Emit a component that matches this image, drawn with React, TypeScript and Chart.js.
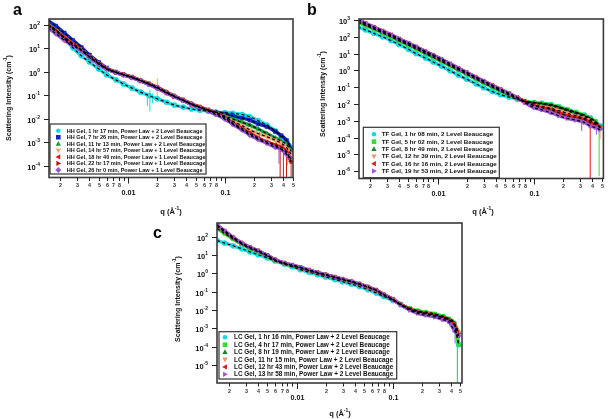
import React, { useEffect, useRef } from "react";
import { Chart, registerables } from "chart.js";

Chart.register(...registerables);

const FONT = '"Liberation Sans", Arial, Helvetica, sans-serif';

const Q = [0.0015, 0.0018, 0.0022, 0.0027, 0.0033, 0.004, 0.005, 0.006, 0.0075, 0.009, 0.011, 0.0135, 0.0165, 0.02, 0.025, 0.03, 0.037, 0.045, 0.055, 0.067, 0.08, 0.1, 0.12, 0.15, 0.18, 0.22, 0.27, 0.33, 0.38, 0.43, 0.48];

// ---------- Panel a : HH Gel ----------
const A_LABELS = [
  "HH Gel, 1 hr 17 min, Power Law + 2 Level Beaucage",
  "HH Gel, 7 hr 26 min, Power Law + 2 Level Beaucage",
  "HH Gel, 11 hr 13 min, Power Law + 2 Level Beaucage",
  "HH Gel, 14 hr 57 min, Power Law + 1 Level Beaucage",
  "HH Gel, 18 hr 40 min, Power Law + 1 Level Beaucage",
  "HH Gel, 22 hr 17 min, Power Law + 1 Level Beaucage",
  "HH Gel, 26 hr 0 min, Power Law + 1 Level Beaucage",
];
const A_1H17 = [110, 62, 26, 10.5, 4.8, 2.6, 1.3, 0.75, 0.45, 0.3, 0.2, 0.135, 0.095, 0.07, 0.05, 0.038, 0.031, 0.026, 0.023, 0.021, 0.019, 0.018, 0.017, 0.015, 0.012, 0.0082, 0.0053, 0.003, 0.0017, 0.0011, 0.0006];
const A_7H26 = [150, 90, 45, 22, 11, 5.2, 2.5, 1.45, 0.95, 0.74, 0.57, 0.41, 0.29, 0.2, 0.125, 0.086, 0.06, 0.041, 0.03, 0.023, 0.019, 0.016, 0.013, 0.0105, 0.0087, 0.006, 0.0045, 0.0028, 0.0019, 0.0012, 0.0005];
const A_11H13 = [100, 58, 29, 15.5, 8.7, 4.4, 2.2, 1.35, 0.96, 0.76, 0.59, 0.43, 0.31, 0.215, 0.135, 0.092, 0.063, 0.043, 0.031, 0.023, 0.018, 0.013, 0.0095, 0.007, 0.0053, 0.0036, 0.0023, 0.0015, 0.0011, 0.0008, 0.0004];
const A_14H57 = [95, 56, 28, 15, 8.5, 4.3, 2.2, 1.35, 0.95, 0.75, 0.58, 0.42, 0.3, 0.22, 0.13, 0.09, 0.062, 0.042, 0.031, 0.023, 0.017, 0.012, 0.0078, 0.005, 0.0033, 0.0023, 0.0017, 0.0012, 0.0009, 0.0006, 0.0003];
const A_18H40 = [95, 55, 28, 15, 8.5, 4.3, 2.2, 1.35, 0.95, 0.75, 0.58, 0.42, 0.3, 0.21, 0.13, 0.09, 0.062, 0.042, 0.031, 0.023, 0.017, 0.011, 0.0065, 0.0038, 0.0024, 0.0015, 0.001, 0.00075, 0.0006, 0.0004, 0.00015];
const A_22H17 = [90, 52, 27, 14.5, 8.3, 4.2, 2.2, 1.33, 0.94, 0.74, 0.57, 0.41, 0.3, 0.21, 0.13, 0.09, 0.061, 0.041, 0.03, 0.022, 0.016, 0.0105, 0.006, 0.0035, 0.0022, 0.0014, 0.001, 0.0007, 0.0005, 0.00035, 0.00015];
const A_26H0 = [72, 42, 22, 13, 8, 4.1, 2.1, 1.3, 0.92, 0.73, 0.56, 0.41, 0.29, 0.2, 0.125, 0.088, 0.06, 0.04, 0.029, 0.021, 0.015, 0.0095, 0.0058, 0.0033, 0.002, 0.0013, 0.0009, 0.0006, 0.0005, 0.0003, 0.0002];
// error bars: [series, q, low, high]
const A_ERRS: number[][] = [
  [3, 0.02, 0.085, 0.52], [0, 0.0168, 0.02, 0.17], [0, 0.0158, 0.035, 0.13], [0, 0.0178, 0.045, 0.12],
  [5, 0.37, 1e-9, 0.0008], [4, 0.4, 1e-9, 0.0005], [5, 0.43, 1e-9, 0.0004], [4, 0.48, 1e-9, 0.0003],
  [3, 0.44, 1e-4, 0.0009], [6, 0.36, 1.2e-4, 0.0008], [1, 0.47, 2e-4, 0.0009],
];

// ---------- Panel b : TF Gel ----------
const B_LABELS = [
  "TF Gel, 1 hr 08 min, 2 Level Beaucage",
  "TF Gel, 5 hr 02 min, 2 Level Beaucage",
  "TF Gel, 8 hr 49 min, 2 Level Beaucage",
  "TF Gel, 12 hr 39 min, 2 Level Beaucage",
  "TF Gel, 16 hr 16 min, 2 Level Beaucage",
  "TF Gel, 19 hr 53 min, 2 Level Beaucage",
];
const B_1H08 = [380, 260, 160, 100, 60, 35, 18, 10, 5.5, 3.2, 1.8, 0.95, 0.52, 0.3, 0.16, 0.093, 0.055, 0.036, 0.026, 0.019, 0.014, 0.012, 0.011, 0.0092, 0.0068, 0.0046, 0.0032, 0.0022, 0.0015, 0.0009, 0.0005];
const B_5H02 = [720, 480, 290, 170, 100, 58, 32, 19, 10, 6, 3.4, 1.9, 1.05, 0.6, 0.31, 0.18, 0.1, 0.058, 0.034, 0.021, 0.015, 0.012, 0.0108, 0.009, 0.0068, 0.0047, 0.0032, 0.0021, 0.0014, 0.0009, 0.0004];
const B_8H49 = [850, 540, 330, 195, 115, 66, 37, 22, 11.5, 7, 3.9, 2.1, 1.15, 0.66, 0.34, 0.2, 0.11, 0.065, 0.038, 0.022, 0.014, 0.011, 0.0095, 0.0078, 0.0058, 0.004, 0.0027, 0.0018, 0.0012, 0.0008, 0.0004];
const B_12H39 = [1050, 650, 385, 225, 135, 77, 42, 26, 13.5, 8.3, 4.6, 2.5, 1.35, 0.77, 0.39, 0.235, 0.13, 0.075, 0.043, 0.024, 0.014, 0.0085, 0.007, 0.0055, 0.004, 0.0028, 0.002, 0.0014, 0.001, 0.0007, 0.0004];
const B_16H16 = [1000, 620, 370, 218, 130, 74, 41, 25, 13, 8, 4.5, 2.4, 1.3, 0.74, 0.38, 0.23, 0.126, 0.073, 0.042, 0.024, 0.014, 0.0078, 0.006, 0.0046, 0.003, 0.002, 0.0016, 0.0012, 0.0008, 0.0006, 0.0004];
const B_19H53 = [1020, 640, 380, 222, 132, 76, 42, 25.5, 13.3, 8.2, 4.6, 2.45, 1.33, 0.75, 0.385, 0.23, 0.125, 0.072, 0.041, 0.023, 0.012, 0.006, 0.0045, 0.003, 0.002, 0.0014, 0.0011, 0.0008, 0.0005, 0.0004, 0.0003];
const B_ERRS: number[][] = [
  [4, 0.38, 1e-9, 0.0008], [1, 0.47, 5e-7, 0.0004], [3, 0.48, 8e-5, 0.0005],
  [5, 0.31, 2.5e-4, 0.0012], [5, 0.44, 1.5e-4, 0.0006],
];

// ---------- Panel c : LC Gel ----------
const C_LABELS = [
  "LC Gel, 1 hr 16 min, Power Law + 2 Level Beaucage",
  "LC Gel, 4 hr 17 min, Power Law + 2 Level Beaucage",
  "LC Gel, 8 hr 19 min, Power Law + 2 Level Beaucage",
  "LC Gel, 11 hr 15 min, Power Law + 2 Level Beaucage",
  "LC Gel, 12 hr 43 min, Power Law + 2 Level Beaucage",
  "LC Gel, 13 hr 58 min, Power Law + 2 Level Beaucage",
];
const C_1H16 = [62, 45, 32, 22, 15, 10.5, 7, 4.8, 3.2, 2.3, 1.6, 1.15, 0.85, 0.64, 0.46, 0.35, 0.26, 0.19, 0.13, 0.085, 0.055, 0.033, 0.02, 0.0115, 0.0082, 0.0066, 0.0054, 0.0041, 0.003, 0.0018, 0.00013];
const C_4H17 = [280, 150, 75, 40, 23, 15, 8.5, 5, 3.4, 2.6, 1.95, 1.4, 1.03, 0.8, 0.58, 0.45, 0.34, 0.25, 0.17, 0.115, 0.068, 0.038, 0.021, 0.012, 0.0092, 0.0077, 0.0062, 0.0046, 0.0033, 0.002, 0.00013];
const C_8H19 = [380, 185, 85, 43, 25, 16.5, 9.2, 5.4, 3.55, 2.75, 2.05, 1.48, 1.08, 0.84, 0.61, 0.47, 0.355, 0.26, 0.18, 0.12, 0.07, 0.038, 0.02, 0.011, 0.008, 0.0064, 0.0052, 0.004, 0.0029, 0.0018, 0.0006];
const C_11H15 = [430, 205, 92, 46, 26.5, 17.2, 9.6, 5.6, 3.65, 2.85, 2.12, 1.52, 1.12, 0.86, 0.63, 0.49, 0.365, 0.265, 0.185, 0.122, 0.071, 0.038, 0.02, 0.011, 0.0078, 0.0062, 0.005, 0.0038, 0.0028, 0.0017, 0.0006];
const C_12H43 = [420, 200, 90, 45, 26, 17, 9.5, 5.5, 3.6, 2.8, 2.1, 1.5, 1.1, 0.85, 0.62, 0.48, 0.36, 0.26, 0.18, 0.12, 0.07, 0.038, 0.02, 0.011, 0.0078, 0.0062, 0.005, 0.0038, 0.0028, 0.0017, 0.0004];
const C_13H58 = [440, 210, 93, 46, 26.5, 17, 9.5, 5.5, 3.6, 2.8, 2.1, 1.5, 1.1, 0.85, 0.62, 0.48, 0.36, 0.26, 0.18, 0.12, 0.07, 0.037, 0.019, 0.0098, 0.0066, 0.0052, 0.0042, 0.003, 0.0023, 0.0008, 0.0004];
const C_ERRS: number[][] = [
  [1, 0.465, 1e-9, 0.0006], [0, 0.465, 1e-9, 0.0003], [5, 0.44, 1.5e-4, 0.0012], [4, 0.47, 1.5e-4, 0.0008],
];

const CYAN = "#16d9e3";
const A_COLORS = [CYAN, "#1428c8", "#1a9c3a", "#eaa86e", "#e21a1a", "#d01010", "#9a55d6"];
const A_STYLES = ["circle", "rect", "triangle", "triangle", "triangle", "triangle", "rectRot"];
const A_ROTS = [0, 0, 0, 180, 270, 90, 0];
const BC_COLORS = [CYAN, "#2de02d", "#15892a", "#ee9670", "#e21a1a", "#9a55d6"];
const BC_STYLES = ["circle", "rect", "triangle", "triangle", "triangle", "triangle"];
const BC_ROTS = [0, 0, 0, 180, 270, 90];

interface Legend { x: number; y: number; w: number; h: number; row0: number; dy: number; mx: number; tx: number; tw: number }
interface Panel {
  left: number; top: number; w: number; h: number;
  pad: { left: number; top: number; right: number; bottom: number };
  xMin: number; xMax: number; yMin: number; yMax: number;
  letter: string; letterPos: number[]; yTitle: number[]; qTitle: number[];
  legend: Legend;
  labels: string[]; series: number[][]; colors: string[]; styles: string[]; rots: number[]; errs: number[][];
}

const PANELS: Panel[] = [
  {
    left: 0, top: 0, w: 300, h: 216,
    pad: { left: 49, top: 19, right: 7, bottom: 38.5 },
    xMin: 0.00153, xMax: 0.502, yMin: 3.1e-5, yMax: 177,
    letter: "a", letterPos: [13, 15], yTitle: [8, 98], qTitle: [171, 211],
    legend: { x: 50, y: 124, w: 156, h: 50, row0: 130.7, dy: 6.55, mx: 58.3, tx: 66.7, tw: 136 },
    labels: A_LABELS, series: [A_1H17, A_7H26, A_11H13, A_14H57, A_18H40, A_22H17, A_26H0],
    colors: A_COLORS, styles: A_STYLES, rots: A_ROTS, errs: A_ERRS,
  },
  {
    left: 300, top: 0, w: 308, h: 216,
    pad: { left: 59, top: 19, right: 2, bottom: 37.5 },
    xMin: 0.00154, xMax: 0.52, yMin: 3.7e-7, yMax: 1146,
    letter: "b", letterPos: [7, 15], yTitle: [22, 94], qTitle: [183, 211],
    legend: { x: 63.3, y: 127.3, w: 136, h: 50.4, row0: 134.3, dy: 7.35, mx: 74, tx: 81.7, tw: 111.7 },
    labels: B_LABELS, series: [B_1H08, B_5H02, B_8H49, B_12H39, B_16H16, B_19H53],
    colors: BC_COLORS, styles: BC_STYLES, rots: BC_ROTS, errs: B_ERRS,
  },
  {
    left: 140, top: 216, w: 330, h: 203,
    pad: { left: 77, top: 7, right: 8, bottom: 36 },
    xMin: 0.0015, xMax: 0.519, yMin: 1.05e-6, yMax: 559,
    letter: "c", letterPos: [13, 22], yTitle: [37, 83], qTitle: [200, 197],
    legend: { x: 79, y: 115.7, w: 177.7, h: 47.3, row0: 121.3, dy: 7.4, mx: 85, tx: 94, tw: 156 },
    labels: C_LABELS, series: [C_1H16, C_4H17, C_8H19, C_11H15, C_12H43, C_13H58],
    colors: BC_COLORS, styles: BC_STYLES, rots: BC_ROTS, errs: C_ERRS,
  },
];

function drawRich(ctx: CanvasRenderingContext2D, x: number, y: number, parts: [string, boolean][], size: number, align: string, raise = 0.55) {
  const big = `bold ${size}px ${FONT}`;
  const small = `bold ${size * 0.66}px ${FONT}`;
  let total = 0;
  const ws = parts.map(([t, sup]) => {
    ctx.font = sup ? small : big;
    const w = ctx.measureText(t).width;
    total += w;
    return w;
  });
  let cx = align === "center" ? x - total / 2 : align === "right" ? x - total : x;
  ctx.textAlign = "left";
  ctx.textBaseline = "alphabetic";
  parts.forEach(([t, sup], i) => {
    ctx.font = sup ? small : big;
    ctx.fillText(t, cx, sup ? y - size * raise : y);
    cx += ws[i];
  });
}

function drawMarker(ctx: CanvasRenderingContext2D, style: string, rot: number, x: number, y: number, r: number, color: string) {
  ctx.save();
  ctx.translate(x, y);
  ctx.rotate((rot * Math.PI) / 180);
  ctx.fillStyle = color;
  ctx.beginPath();
  if (style === "circle") ctx.arc(0, 0, r, 0, Math.PI * 2);
  else if (style === "rect") ctx.rect(-r, -r, 2 * r, 2 * r);
  else if (style === "triangle") {
    ctx.moveTo(0, -r * 1.25);
    ctx.lineTo(r * 1.15, r * 0.85);
    ctx.lineTo(-r * 1.15, r * 0.85);
    ctx.closePath();
  } else {
    ctx.moveTo(0, -r * 1.3);
    ctx.lineTo(r * 1.3, 0);
    ctx.lineTo(0, r * 1.3);
    ctx.lineTo(-r * 1.3, 0);
    ctx.closePath();
  }
  ctx.fill();
  ctx.restore();
}

function makePlugin(p: Panel) {
  return {
    id: "igorFrame",
    beforeDatasetsDraw(chart: any) {
      const ctx: CanvasRenderingContext2D = chart.ctx;
      const ca = chart.chartArea;
      const xs = chart.scales.x;
      const ys = chart.scales.y;
      ctx.save();
      ctx.beginPath();
      ctx.rect(ca.left, ca.top, ca.right - ca.left, ca.bottom - ca.top);
      ctx.clip();
      ctx.lineWidth = 1;
      for (const [s, q, lo, hi] of p.errs) {
        const x = xs.getPixelForValue(q);
        const y1 = Math.min(ys.getPixelForValue(lo), ca.bottom + 5);
        const y2 = ys.getPixelForValue(hi);
        ctx.strokeStyle = p.colors[s];
        ctx.beginPath();
        ctx.moveTo(x, y1);
        ctx.lineTo(x, y2);
        ctx.stroke();
      }
      ctx.restore();
    },
    afterDraw(chart: any) {
      const ctx: CanvasRenderingContext2D = chart.ctx;
      const ca = chart.chartArea;
      const xs = chart.scales.x;
      const ys = chart.scales.y;
      ctx.save();
      // legend box
      const L = p.legend;
      ctx.fillStyle = "#ffffff";
      ctx.fillRect(L.x, L.y, L.w, L.h);
      ctx.strokeStyle = "#333";
      ctx.lineWidth = 1.2;
      ctx.strokeRect(L.x, L.y, L.w, L.h);
      ctx.font = `bold 10px ${FONT}`;
      const fs = (10 * L.tw) / ctx.measureText(p.labels[0]).width;
      p.labels.forEach((lab, i) => {
        const y = L.row0 + i * L.dy;
        drawMarker(ctx, p.styles[i], p.rots[i], L.mx, y, 2.3, p.colors[i]);
        ctx.fillStyle = "#101010";
        ctx.font = `bold ${fs}px ${FONT}`;
        ctx.textAlign = "left";
        ctx.textBaseline = "middle";
        ctx.fillText(lab, L.tx, y + 0.3);
      });
      // frame
      ctx.strokeStyle = "#3a3a3a";
      ctx.lineWidth = 1.6;
      ctx.strokeRect(ca.left, ca.top, ca.right - ca.left, ca.bottom - ca.top);
      // y ticks
      ctx.strokeStyle = "#222";
      ctx.lineWidth = 1;
      ctx.fillStyle = "#111";
      const e0 = Math.ceil(Math.log10(p.yMin) - 1e-9);
      const e1 = Math.floor(Math.log10(p.yMax) + 1e-9);
      for (let e = e0; e <= e1; e++) {
        const y = Math.round(ys.getPixelForValue(Math.pow(10, e))) + 0.5;
        ctx.beginPath();
        ctx.moveTo(ca.left - 5, y);
        ctx.lineTo(ca.left, y);
        ctx.stroke();
        if (y < ca.bottom - 3) drawRich(ctx, ca.left - 9, y + 3.9, [["10", false], [String(e), true]], 7.5, "right", 0.62);
      }
      // x ticks
      const d0 = Math.floor(Math.log10(p.xMin));
      const d1 = Math.ceil(Math.log10(p.xMax));
      for (let d = d0; d <= d1; d++) {
        for (let m = 1; m <= 9; m++) {
          const v = m * Math.pow(10, d);
          if (v < p.xMin * 0.999 || v > p.xMax * 1.002) continue;
          const x = Math.round(xs.getPixelForValue(v)) + 0.5;
          ctx.beginPath();
          ctx.moveTo(x, ca.bottom);
          ctx.lineTo(x, ca.bottom + (m === 1 ? 6 : 3.5));
          ctx.stroke();
          ctx.textAlign = "center";
          ctx.textBaseline = "middle";
          if (m === 1) {
            ctx.font = `bold 7.2px ${FONT}`;
            ctx.fillText(String(Number(v.toPrecision(1))), x, ca.bottom + 15.5);
          } else if (m <= 8) {
            ctx.font = `bold 5.4px ${FONT}`;
            ctx.fillStyle = "#333";
            ctx.fillText(String(m), x, ca.bottom + 8.3);
            ctx.fillStyle = "#111";
          }
        }
      }
      // axis titles
      ctx.fillStyle = "#111";
      ctx.save();
      ctx.translate(p.yTitle[0], p.yTitle[1]);
      ctx.rotate(-Math.PI / 2);
      drawRich(ctx, 0, 2.5, [["Scattering Intensity (cm", false], ["-1", true], [")", false]], 7, "center", 0.5);
      ctx.restore();
      drawRich(ctx, p.qTitle[0], p.qTitle[1] + 2.6, [["q (Å", false], ["-1", true], [")", false]], 7.5, "center", 0.5);
      // panel letter
      ctx.font = `bold 16px ${FONT}`;
      ctx.textAlign = "left";
      ctx.textBaseline = "alphabetic";
      ctx.fillStyle = "#000";
      ctx.fillText(p.letter, p.letterPos[0], p.letterPos[1]);
      ctx.restore();
    },
  };
}

function makeConfig(p: Panel): any {
  const datasets: any[] = [];
  p.series.forEach((vals, i) => {
    datasets.push({
      label: p.labels[i],
      data: Q.map((q, j) => ({ x: q, y: vals[j] })),
      showLine: true,
      borderColor: p.colors[i],
      backgroundColor: p.colors[i],
      borderWidth: 3.4,
      pointStyle: p.styles[i],
      pointRotation: p.rots[i],
      pointRadius: 2.6,
      pointBorderWidth: 0.6,
      pointBorderColor: p.colors[i],
      pointBackgroundColor: p.colors[i],
      cubicInterpolationMode: "monotone",
      order: 100 - i,
    });
  });
  p.series.forEach((vals) => {
    datasets.push({
      label: "fit",
      data: Q.map((q, j) => ({ x: q, y: vals[j] })),
      showLine: true,
      borderColor: "#000",
      borderWidth: 1.2,
      borderDash: [3, 2.5],
      pointRadius: 0,
      cubicInterpolationMode: "monotone",
      order: 0,
    });
  });
  return {
    type: "scatter",
    data: { datasets },
    options: {
      responsive: false,
      animation: false,
      devicePixelRatio: 1,
      events: [],
      layout: { padding: p.pad },
      plugins: { legend: { display: false }, tooltip: { enabled: false } },
      scales: {
        x: { type: "logarithmic", min: p.xMin, max: p.xMax, display: false },
        y: { type: "logarithmic", min: p.yMin, max: p.yMax, display: false },
      },
    },
    plugins: [makePlugin(p)],
  };
}

function PanelChart({ p }: { p: Panel }) {
  const ref = useRef<HTMLCanvasElement>(null);
  useEffect(() => {
    const chart = new Chart(ref.current as HTMLCanvasElement, makeConfig(p));
    return () => chart.destroy();
  }, [p]);
  return (
    <canvas
      ref={ref}
      width={p.w}
      height={p.h}
      style={{ position: "absolute", left: p.left, top: p.top, width: p.w, height: p.h }}
    />
  );
}

export default function App() {
  return (
    <div style={{ position: "fixed", left: 0, top: 0, width: 608, height: 419, background: "#fff", overflow: "hidden" }}>
      {PANELS.map((p, i) => (
        <PanelChart key={i} p={p} />
      ))}
    </div>
  );
}
